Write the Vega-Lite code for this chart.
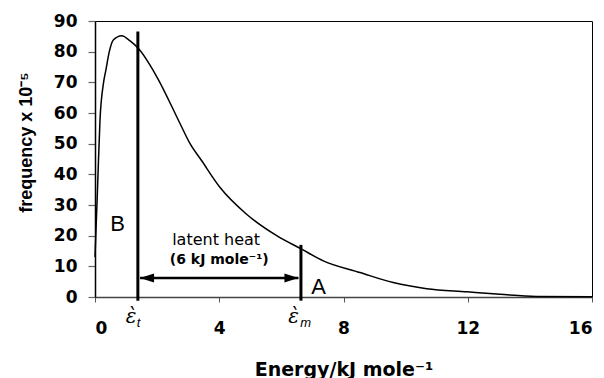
{
  "$schema": "https://vega.github.io/schema/vega-lite/v6.json",
  "autosize": "none",
  "width": 497,
  "height": 276,
  "padding": {"left": 95, "top": 21, "right": 12, "bottom": 81},
  "background": "white",
  "config": {
    "font": "Liberation Sans",
    "view": {"stroke": "#000", "strokeWidth": 1},
    "axis": {"grid": false},
    "axisY": {
      "tickCount": 10,
      "labelOverlap": false,
      "labelFont": "DejaVu Sans", "labelFontSize": 17, "labelFontWeight": "bold", "labelColor": "#000",
      "labelPadding": 11,
      "tickSize": 7, "tickColor": "#666", "tickWidth": 1.2, "domainColor": "#000", "domainWidth": 1.5
    }
  },
  "datasets": {
    "curve": [
      {"e": 0.0, "f": 13},
      {"e": 0.08, "f": 35},
      {"e": 0.16, "f": 57.6},
      {"e": 0.27, "f": 69.6},
      {"e": 0.35, "f": 74},
      {"e": 0.46, "f": 80},
      {"e": 0.59, "f": 83.8},
      {"e": 0.86, "f": 85.2},
      {"e": 1.13, "f": 83.5},
      {"e": 1.4, "f": 81},
      {"e": 1.99, "f": 71.8},
      {"e": 2.74, "f": 56.5},
      {"e": 3.06, "f": 50},
      {"e": 3.43, "f": 44.5},
      {"e": 4.02, "f": 35.8},
      {"e": 4.88, "f": 27},
      {"e": 5.85, "f": 20},
      {"e": 6.65, "f": 15.6},
      {"e": 7.35, "f": 11.8},
      {"e": 8.53, "f": 8},
      {"e": 9.6, "f": 4.7},
      {"e": 10.68, "f": 2.7},
      {"e": 11.97, "f": 1.7},
      {"e": 13.04, "f": 0.9},
      {"e": 14.2, "f": 0.2},
      {"e": 16, "f": 0.1}
    ],
    "vlines": [
      {"e": 1.38, "lo": -1.2, "hi": 86.6},
      {"e": 6.63, "lo": -1.2, "hi": 17}
    ],
    "arrow": [{"a": 1.45, "b": 6.55, "f": 6.2}],
    "heads": [
      {"e": 1.45, "f": 6.2, "dir": "left"},
      {"e": 6.55, "f": 6.2, "dir": "right"}
    ],
    "letters": [
      {"e": 0.73, "f": 23.7, "t": "B"},
      {"e": 7.2, "f": 3.1, "t": "A"}
    ],
    "eps": [
      {"e": 1.16, "f": -8.4, "t": "ὲ"},
      {"e": 6.39, "f": -8.4, "t": "ὲ"}
    ],
    "subs": [
      {"e": 1.4, "f": -9.8, "t": "t"},
      {"e": 6.78, "f": -9.8, "t": "m"}
    ]
  },
  "layer": [
    {
      "data": {"name": "curve"},
      "mark": {"type": "line", "color": "#000", "strokeWidth": 1.5, "interpolate": "monotone", "clip": false},
      "encoding": {
        "x": {
          "field": "e", "type": "quantitative",
          "scale": {"domain": [0, 16], "nice": false, "zero": false},
          "axis": {
            "values": [0, 4, 8, 12, 16],
            "title": "Energy/kJ mole⁻¹",
            "titleFont": "DejaVu Sans", "titleFontSize": 19, "titleFontWeight": "bold", "titleColor": "#000",
            "titlePadding": 24,
            "labelFont": "DejaVu Sans", "labelFontSize": 17, "labelFontWeight": "bold", "labelColor": "#000",
            "labelPadding": 18, "labelOverlap": false,
            "tickSize": 5, "tickColor": "#555", "domainColor": "#444", "domainWidth": 1.5
          }
        },
        "y": {
          "field": "f", "type": "quantitative",
          "scale": {"domain": [0, 90], "nice": false},
          "axis": {
            "values": [0, 10, 20, 30, 40, 50, 60, 70, 80, 90],
            "title": "frequency x 10⁻⁵",
            "titleFont": "Liberation Sans", "titleFontSize": 18, "titleFontWeight": "bold", "titleColor": "#000",
            "titlePadding": 18, "titleY": 121
          }
        }
      }
    },
    {
      "data": {"name": "vlines"},
      "mark": {"type": "rule", "color": "#000", "strokeWidth": 3, "clip": false},
      "encoding": {
        "x": {"field": "e", "type": "quantitative"},
        "y": {"field": "lo", "type": "quantitative"},
        "y2": {"field": "hi"}
      }
    },
    {
      "data": {"name": "arrow"},
      "mark": {"type": "rule", "color": "#000", "strokeWidth": 2.5},
      "encoding": {
        "x": {"field": "a", "type": "quantitative"},
        "x2": {"field": "b"},
        "y": {"field": "f", "type": "quantitative"}
      }
    },
    {
      "data": {"name": "heads"},
      "transform": [{"filter": "datum.dir == 'left'"}],
      "mark": {"type": "point", "shape": "M0,0L1,-0.32L1,0.32Z", "filled": true, "color": "#000", "opacity": 1, "size": 784},
      "encoding": {
        "x": {"field": "e", "type": "quantitative"},
        "y": {"field": "f", "type": "quantitative"}
      }
    },
    {
      "data": {"name": "heads"},
      "transform": [{"filter": "datum.dir == 'right'"}],
      "mark": {"type": "point", "shape": "M0,0L-1,-0.32L-1,0.32Z", "filled": true, "color": "#000", "opacity": 1, "size": 784},
      "encoding": {
        "x": {"field": "e", "type": "quantitative"},
        "y": {"field": "f", "type": "quantitative"}
      }
    },
    {
      "data": {"values": [{"e": 3.9, "f": 16.8, "t": "latent heat"}]},
      "mark": {"type": "text", "font": "DejaVu Sans", "fontSize": 16, "color": "#000", "baseline": "alphabetic", "align": "center"},
      "encoding": {
        "x": {"field": "e", "type": "quantitative"},
        "y": {"field": "f", "type": "quantitative"},
        "text": {"field": "t"}
      }
    },
    {
      "data": {"values": [{"e": 4.0, "f": 10.6, "t": "(6 kJ mole⁻¹)"}]},
      "mark": {"type": "text", "font": "DejaVu Sans", "fontSize": 14, "fontWeight": "bold", "color": "#000", "baseline": "alphabetic", "align": "center"},
      "encoding": {
        "x": {"field": "e", "type": "quantitative"},
        "y": {"field": "f", "type": "quantitative"},
        "text": {"field": "t"}
      }
    },
    {
      "data": {"name": "letters"},
      "mark": {"type": "text", "font": "Liberation Sans", "fontSize": 22, "color": "#000", "baseline": "middle", "align": "center"},
      "encoding": {
        "x": {"field": "e", "type": "quantitative"},
        "y": {"field": "f", "type": "quantitative"},
        "text": {"field": "t"}
      }
    },
    {
      "data": {"name": "eps"},
      "mark": {"type": "text", "font": "DejaVu Serif", "fontSize": 20, "fontStyle": "italic", "color": "#000", "baseline": "alphabetic", "align": "center", "clip": false},
      "encoding": {
        "x": {"field": "e", "type": "quantitative"},
        "y": {"field": "f", "type": "quantitative"},
        "text": {"field": "t"}
      }
    },
    {
      "data": {"name": "subs"},
      "mark": {"type": "text", "font": "Liberation Sans", "fontSize": 13, "fontStyle": "italic", "color": "#000", "baseline": "alphabetic", "align": "center", "clip": false},
      "encoding": {
        "x": {"field": "e", "type": "quantitative"},
        "y": {"field": "f", "type": "quantitative"},
        "text": {"field": "t"}
      }
    }
  ]
}
